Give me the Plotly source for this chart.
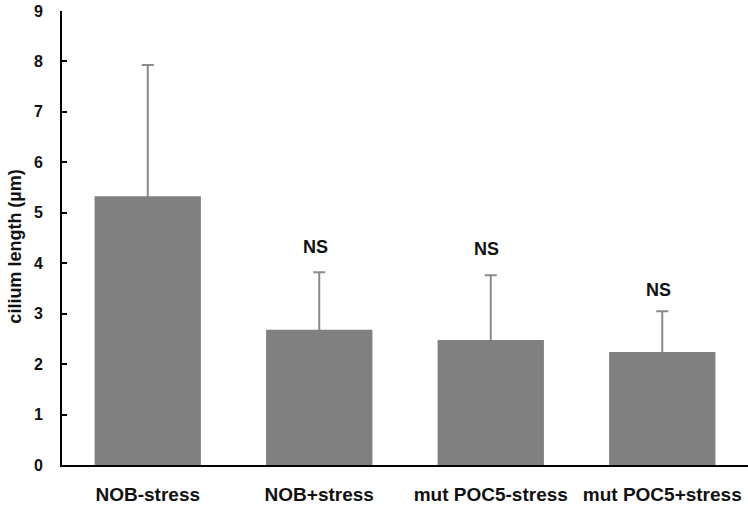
import plotly.graph_objects as go

# Cilium length per condition (mean and standard deviation, µm)
conditions = ["NOB-stress", "NOB+stress", "mut POC5-stress", "mut POC5+stress"]
mean_length = [5.33, 2.68, 2.48, 2.24]
sd_length = [2.6, 1.14, 1.28, 0.81]

# Significance marks placed above the error bars
sig_labels = ["", "NS", "NS", "NS"]
sig_heights = [None, 4.33, 4.29, 3.46]

y_ticks = list(range(0, 10))

FONT = "Liberation Sans, Arial, sans-serif"

fig = go.Figure()
# Upper error whiskers: the lower end is tucked inside the bar so that
# only the stem and the top cap remain visible once the bars are drawn.
fig.add_trace(
    go.Bar(
        x=conditions,
        y=mean_length,
        marker=dict(color="rgba(0,0,0,0)", line=dict(width=0)),
        error_y=dict(
            type="data",
            symmetric=False,
            array=sd_length,
            arrayminus=[0.15] * len(sd_length),
            color="#8a8a8a",
            thickness=2,
            width=6,
        ),
        showlegend=False,
        hoverinfo="skip",
    )
)
fig.add_trace(
    go.Bar(
        x=conditions,
        y=mean_length,
        marker=dict(color="#808080", line=dict(width=0)),
        showlegend=False,
    )
)

for cond, lab, h in zip(conditions, sig_labels, sig_heights):
    if lab:
        fig.add_annotation(
            x=cond, y=h, xref="x", yref="y",
            text="<b>%s</b>" % lab, showarrow=False,
            xshift=-4,
            font=dict(family=FONT, size=18, color="#111"),
            yanchor="middle",
        )

fig.add_annotation(
    x=-0.0685, y=0.481, xref="paper", yref="paper",
    text="<b>cilium length (µm)</b>", textangle=-90, showarrow=False,
    font=dict(family=FONT, size=18, color="#111"),
    xanchor="center", yanchor="middle",
)

fig.update_layout(
    width=748, height=505,
    margin=dict(l=62, r=0, t=11, b=37),
    paper_bgcolor="white", plot_bgcolor="white",
    barmode="overlay",
    bargap=0.38,
    font=dict(family=FONT, color="#111"),
)
fig.update_xaxes(
    showline=True, linecolor="black", linewidth=2,
    showgrid=False, ticks="", zeroline=False,
    tickfont=dict(family=FONT, size=19, color="#111", weight="bold"),
    ticklabelstandoff=11,
    range=[-0.5, 3.5],
)
fig.update_yaxes(
    range=[0, 9], tickvals=y_ticks,
    showline=True, linecolor="black", linewidth=2,
    showgrid=False, zeroline=False,
    ticks="inside", ticklen=5, tickwidth=2, tickcolor="black",
    tickfont=dict(family=FONT, size=16, color="#111", weight="bold"),
    ticklabelstandoff=14,
)

fig.write_html("out.html")
